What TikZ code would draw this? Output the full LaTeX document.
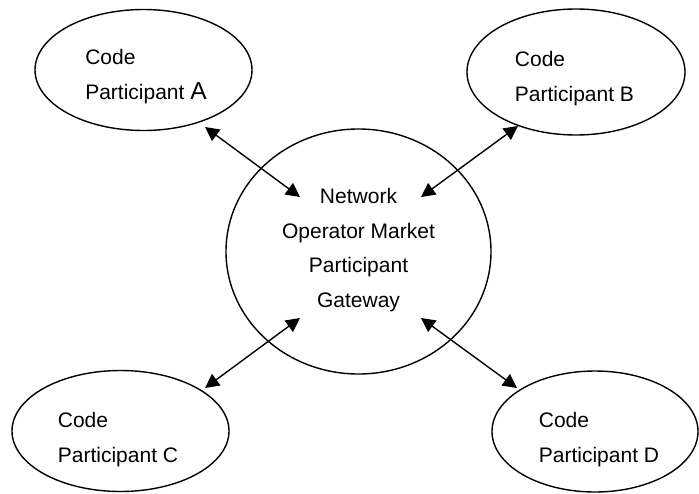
\documentclass[tikz,border=0pt]{standalone}
\usepackage{fontspec}
\setmainfont{Liberation Sans}
\usetikzlibrary{shapes.geometric,arrows.meta}
\tikzset{
  part/.style={draw=black, line width=1.4pt, ellipse, inner sep=0pt, outer sep=0pt, minimum width=217pt, minimum height=121pt},
  hub/.style={draw=black, line width=1.4pt, ellipse, inner sep=0pt, outer sep=0pt, minimum width=265pt, minimum height=245pt},
  ptext/.style={align=left, inner sep=0pt, font=\fontsize{21}{35}\selectfont},
  htext/.style={align=center, inner sep=0pt, font=\fontsize{21}{34.7}\selectfont},
  link/.style={line width=1.4pt, {Triangle[length=14pt,width=14pt]}-{Triangle[length=14pt,width=14pt]}}
}
\begin{document}
\begin{tikzpicture}[x=1pt,y=-1pt]
\useasboundingbox (0,0) rectangle (699,493);
\node[part] (A) at (143.5,70) {};
\node[part, minimum width=218pt, minimum height=126pt] (B) at (576,72) {};
\node[part] (C) at (120.5,431) {};
\node[part, minimum width=206pt] (D) at (595,431.5) {};
\node[hub] (G) at (358.5,251.5) {};
\node[ptext] (At) at (146,76.5) {Code\\Participant {\fontsize{24.5}{35}\selectfont A}};
\node[ptext] (Bt) at (574.5,78.5) {Code\\Participant B};
\node[ptext] (Ct) at (118,440) {Code\\Participant C};
\node[ptext] (Dt) at (599,439.5) {Code\\Participant D};
\node[htext] (Gt) at (358.5,250) {Network\\Operator Market\\Participant\\Gateway};
\coordinate (a1) at (205,127);
\coordinate (g1) at (300,197);
\coordinate (b1) at (518,126);
\coordinate (g2) at (421,197);
\coordinate (c1) at (205,388);
\coordinate (g3) at (300,318);
\coordinate (d1) at (517,388);
\coordinate (g4) at (421,318);
\draw[link] (a1) -- (g1);
\draw[link] (b1) -- (g2);
\draw[link] (c1) -- (g3);
\draw[link] (d1) -- (g4);
\end{tikzpicture}
\end{document}
